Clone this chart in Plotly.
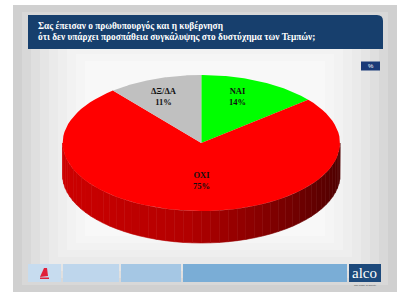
import numpy as np
import plotly.graph_objects as go

# ---- data ----
categories = ["ΝΑΙ", "ΟΧΙ", "ΔΞ/ΔΑ"]
values = [14, 75, 11]
slice_colors = ["#00ff00", "#ff0000", "#c0c0c0"]
title_lines = ["Σας έπεισαν ο πρωθυπουργός και η κυβέρνηση",
               "ότι δεν υπάρχει προσπάθεια συγκάλυψης στο δυστύχημα των Τεμπών;"]
unit_label = "%"
brand = "alco"
brand_tag = "The pulse of society"

# ---- layout params (pixel space) ----
W, H = 400, 300
CX, CY, RX, RY, DEPTH = 201.3, 143.0, 138.7, 68.0, 32.0
lab_fx = [0.61, 0.0, 0.79]
lab_fy = [0.75, 0.56, 0.72]

fig = go.Figure()
shapes = []
annotations = []

# slide background (concentric layers to fake a radial gradient)
sx0, sy0, sx1, sy1 = 13, 5, 397, 292
greys = ["#d0d0d0", "#d8d8d8", "#dfdfdf", "#e5e5e5", "#eaeaea", "#eeeeee", "#f2f2f2", "#f5f5f5", "#f8f8f8"]
for i, g in enumerate(greys):
    ix = i * 9
    iy = i * 7
    shapes.append(dict(type="rect", xref="x", yref="y", x0=sx0 + ix, x1=sx1 - ix, y0=sy0 + iy, y1=sy1 - iy,
                       fillcolor=g, line=dict(width=0), layer="below"))

# title box with rounded top-right corner
bx0, by0, bx1, by1, r = 28, 15, 383, 49, 6
shapes.append(dict(type="path", xref="x", yref="y",
                   path=f"M{bx0},{by0} L{bx1-r},{by0} Q{bx1},{by0} {bx1},{by0+r} L{bx1},{by1} L{bx0},{by1} Z",
                   fillcolor="#173f6d", line=dict(width=0), layer="below"))
for j, line in enumerate(title_lines):
    annotations.append(dict(x=35.5, y=26.5 + j * 10.5, xref="x", yref="y", xanchor="left", yanchor="middle",
                            align="left", text="<b>" + line + "</b>", showarrow=False,
                            font=dict(family="Liberation Serif", size=9.3, color="white")))
# % box
shapes.append(dict(type="rect", xref="x", yref="y", x0=361, x1=380, y0=61.5, y1=70.5,
                   fillcolor="#1a3a78", line=dict(width=0), layer="below"))
annotations.append(dict(x=370.5, y=66, xref="x", yref="y", text=unit_label, showarrow=False,
                        font=dict(family="Liberation Sans", size=6, color="white")))

# bottom strip
strip = [(28, 61, "#c7dcef"), (63, 119, "#bed6ec"), (121, 181, "#a5c7e4"), (183, 347, "#7aadd6"), (349, 381, "#1d4a7c")]
for x0, x1, c in strip:
    shapes.append(dict(type="rect", xref="x", yref="y", x0=x0, x1=x1, y0=264, y1=282,
                       fillcolor=c, line=dict(width=0), layer="below"))
# small red logo
shapes.append(dict(type="path", xref="x", yref="y", path="M40,277 L44,268 L47,268 L48,276 Z",
                   fillcolor="#e0203a", line=dict(width=0)))
shapes.append(dict(type="rect", xref="x", yref="y", x0=40, x1=49, y0=277.5, y1=279,
                   fillcolor="#e0203a", line=dict(width=0)))
annotations.append(dict(x=364.5, y=273, xref="x", yref="y", text=brand, showarrow=False,
                        font=dict(family="Liberation Serif", size=15, color="white")))
annotations.append(dict(x=365, y=285.5, xref="x", yref="y", text=brand_tag, showarrow=False,
                        font=dict(family="Liberation Sans", size=2.5, color="#444444")))

# ---- pie geometry from data ----
total = float(sum(values))
starts = np.cumsum([0] + values[:-1]) / total * 2 * np.pi
ends = np.cumsum(values) / total * 2 * np.pi


def ell(theta, dy=0.0):
    return CX + RX * np.sin(theta), CY - RY * np.cos(theta) + dy


def lerp_color(stops, t):
    for (t0, c0), (t1, c1) in zip(stops[:-1], stops[1:]):
        if t0 <= t <= t1:
            u = (t - t0) / (t1 - t0)
            c = [int(round(a + (b - a) * u)) for a, b in zip(c0, c1)]
            return "rgb(%d,%d,%d)" % tuple(c)
    return "rgb(%d,%d,%d)" % stops[-1][1]


# side (visible lower half, from 90° to 270° clockwise from top)
side_stops = [(0.0, (205, 0, 0)), (0.45, (178, 0, 0)), (0.8, (120, 0, 0)), (1.0, (80, 0, 0))]
N = 48
thetas = np.linspace(np.pi / 2, 3 * np.pi / 2, N + 1)
for k in range(N):
    a0, a1 = thetas[k], thetas[k + 1]
    mid = 0.5 * (a0 + a1)
    owner = int(np.searchsorted(ends, mid))
    tt = np.linspace(a0, a1, 6)
    x_top, y_top = ell(tt)
    x_bot, y_bot = ell(tt[::-1], DEPTH)
    xs = np.concatenate([x_top, x_bot])
    ys = np.concatenate([y_top, y_bot])
    xm = ell(mid)[0]
    t = (xm - (CX - RX)) / (2 * RX)
    col = lerp_color(side_stops, t) if slice_colors[owner] == "#ff0000" else slice_colors[owner]
    fig.add_trace(go.Scatter(x=list(xs) + [xs[0]], y=list(ys) + [ys[0]], mode="lines", fill="toself",
                             fillcolor=col, line=dict(width=0.6, color=col), hoverinfo="skip", showlegend=False))

# top face
for i, (cat, v) in enumerate(zip(categories, values)):
    tt = np.linspace(starts[i], ends[i], 80)
    x, y = ell(tt)
    xs = [CX] + list(x) + [CX]
    ys = [CY] + list(y) + [CY]
    fig.add_trace(go.Scatter(x=xs, y=ys, mode="lines", fill="toself", fillcolor=slice_colors[i],
                             line=dict(width=0), name=cat, hoverinfo="skip", showlegend=False))
    m = 0.5 * (starts[i] + ends[i])
    lx = CX + RX * lab_fx[i] * np.sin(m)
    ly = CY - RY * lab_fy[i] * np.cos(m)
    annotations.append(dict(x=lx, y=ly, xref="x", yref="y", showarrow=False,
                            text=f"<b>{cat}<br>{v}%</b>",
                            font=dict(family="Liberation Serif", size=8.5, color="#111111")))

fig.update_layout(
    width=W, height=H, margin=dict(l=0, r=0, t=0, b=0),
    paper_bgcolor="white", plot_bgcolor="rgba(0,0,0,0)",
    xaxis=dict(range=[0, W], visible=False, fixedrange=True),
    yaxis=dict(range=[H, 0], visible=False, fixedrange=True),
    shapes=shapes, annotations=annotations, showlegend=False,
)
fig.write_html("out.html")
